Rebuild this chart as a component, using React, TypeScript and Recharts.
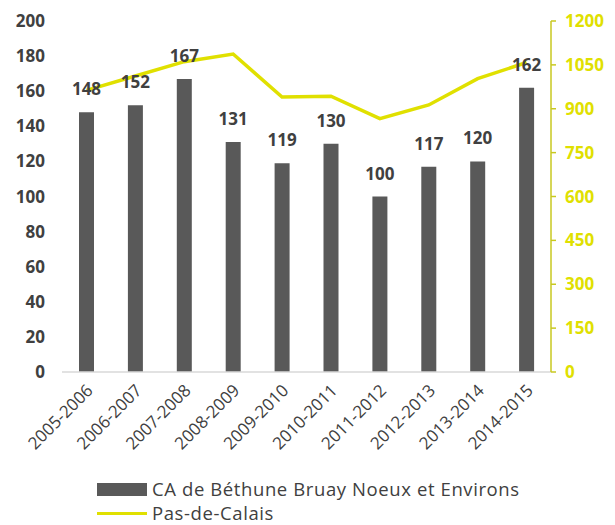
import React from "react";
import {
  Bar,
  ComposedChart,
  LabelList,
  Legend,
  Line,
  XAxis,
  YAxis,
} from "recharts";

document.body.style.margin = "0";

const seasons = [
  "2005-2006",
  "2006-2007",
  "2007-2008",
  "2008-2009",
  "2009-2010",
  "2010-2011",
  "2011-2012",
  "2012-2013",
  "2013-2014",
  "2014-2015",
];
const bethune = [148, 152, 167, 131, 119, 130, 100, 117, 120, 162];
const pasDeCalais = [963, 1012, 1061, 1087, 940, 943, 866, 913, 1003, 1058];
const leftTicks = [0, 20, 40, 60, 80, 100, 120, 140, 160, 180, 200];
const rightTicks = [0, 150, 300, 450, 600, 750, 900, 1050, 1200];

const data = seasons.map((s, i) => ({
  season: s,
  bethune: bethune[i],
  pdc: pasDeCalais[i],
}));

const BAR = "#595959";
const LINE = "#e0e000";
const TEXT = "#404040";
const FONT = "'Open Sans', sans-serif";

const XTick = (props: any) => {
  const { x, y, payload } = props;
  return (
    <g transform={`translate(${x + 4},${y + 8})`}>
      <text
        transform="rotate(-45)"
        textAnchor="end"
        fill={TEXT}
        fontSize={17}
        fontFamily={FONT}
        dy={5}
      >
        {payload.value}
      </text>
    </g>
  );
};

const LegendBox = () => (
  <div
    style={{
      fontFamily: FONT,
      fontSize: 18.5,
      letterSpacing: 0.6,
      color: TEXT,
      paddingLeft: 97,
      lineHeight: "24px",
      marginTop: 5,
    }}
  >
    <div style={{ display: "flex", alignItems: "center", height: 24 }}>
      <span style={{ width: 50, height: 13, background: BAR, marginRight: 5 }} />
      CA de Béthune Bruay Noeux et Environs
    </div>
    <div style={{ display: "flex", alignItems: "center", height: 24 }}>
      <span style={{ width: 50, height: 3, background: LINE, marginRight: 5 }} />
      Pas-de-Calais
    </div>
  </div>
);

export default function App() {
  return (
    <ComposedChart
      width={615}
      height={525}
      data={data}
      margin={{ top: 21, right: 0, bottom: 0, left: 0 }}
    >
      <XAxis
        dataKey="season"
        interval={0}
        height={100}
        tick={<XTick />}
        tickLine={false}
        axisLine={{ stroke: "#d9d9d9", strokeWidth: 1.5 }}
      />
      <YAxis
        yAxisId="left"
        domain={[0, 200]}
        ticks={leftTicks}
        width={62}
        axisLine={false}
        tickLine={false}
        tickSize={0}
        tickMargin={17}
        tick={{ fill: TEXT, fontSize: 17, fontWeight: 700, fontFamily: FONT }}
      />
      <YAxis
        yAxisId="right"
        orientation="right"
        domain={[0, 1200]}
        ticks={rightTicks}
        width={64}
        axisLine={{ stroke: "#c8c820", strokeWidth: 1.5 }}
        tickLine={{ stroke: "#c8c820", strokeWidth: 1.5 }}
        tickSize={5}
        tickMargin={9}
        tick={{ fill: LINE, fontSize: 17, fontWeight: 700, fontFamily: FONT, textAnchor: "start" }}
      />
      <Legend verticalAlign="bottom" content={<LegendBox />} />
      <Bar
        yAxisId="left"
        dataKey="bethune"
        fill={BAR}
        barSize={15}
        isAnimationActive={false}
      >
        <LabelList
          dataKey="bethune"
          position="top"
          offset={17}
          fill={TEXT}
          fontSize={17}
          fontWeight={700}
          fontFamily={FONT}
        />
      </Bar>
      <Line
        yAxisId="right"
        dataKey="pdc"
        stroke={LINE}
        strokeWidth={3.5}
        dot={false}
        activeDot={false}
        isAnimationActive={false}
      />
    </ComposedChart>
  );
}
